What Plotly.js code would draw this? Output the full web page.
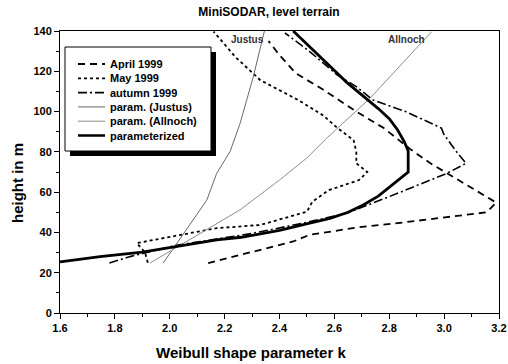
<!DOCTYPE html>
<html>
<head>
<meta charset="utf-8">
<script src="https://cdn.plot.ly/plotly-3.0.1.min.js"></script>
<style>
  html, body { margin: 0; padding: 0; background: #fff; overflow: hidden; }
  #chart { width: 508px; height: 364px; }
</style>
</head>
<body>
<div id="chart"></div>
<script>
// Weibull shape parameter k versus height, MiniSODAR over level terrain

// Measured profiles (k, height in m)
const aprilK  = [2.14, 2.45, 2.51, 2.69, 2.83, 3.155, 3.19, 3.07, 2.95, 2.88, 2.78, 2.68, 2.56, 2.46, 2.40, 2.36];
const aprilH  = [24.8, 35.5, 38.8, 42.6, 44.6, 50.0, 54.8, 64.4, 74.3, 81.0, 91.8, 100.0, 110.8, 119.0, 128.0, 135.0];

const mayK    = [1.92, 1.91, 1.88, 2.17, 2.33, 2.50, 2.52, 2.58, 2.69, 2.72, 2.68, 2.68, 2.67, 2.61, 2.56, 2.47, 2.33, 2.24, 2.16];
const mayH    = [25.0, 30.0, 34.7, 42.1, 43.7, 50.3, 55.3, 61.0, 66.0, 70.0, 74.3, 80.0, 85.8, 92.0, 98.0, 105.6, 115.6, 127.0, 139.7];

const autumnK = [1.78, 1.855, 2.02, 2.30, 2.50, 2.645, 2.83, 2.95, 3.01, 3.08, 3.05, 3.00, 2.99, 2.86, 2.74, 2.68, 2.61, 2.51, 2.42];
const autumnH = [24.8, 28.0, 33.5, 39.5, 45.0, 49.5, 59.4, 66.0, 69.3, 74.3, 79.2, 88.5, 91.8, 100.0, 105.8, 112.4, 118.2, 129.8, 139.0];

// Parameterisations
const justusK  = [1.976, 2.013, 2.135, 2.171, 2.22, 2.256, 2.304, 2.345];
const justusH  = [24.8, 32.0, 56.0, 69.3, 80.2, 94.0, 117.0, 140.0];

const allnochK = [1.928, 2.017, 2.256, 2.40, 2.50, 2.572, 2.73, 2.875, 2.955];
const allnochH = [24.8, 32.0, 51.2, 66.0, 77.0, 86.8, 106.6, 128.0, 139.7];

const paramK   = [1.60, 1.746, 1.90, 2.025, 2.171, 2.26, 2.40, 2.51, 2.584, 2.65, 2.705, 2.76, 2.803, 2.84, 2.869,
                  2.869, 2.855, 2.83, 2.80, 2.76, 2.71, 2.645, 2.584, 2.45];
const paramH   = [25.4, 28.0, 30.2, 33.0, 36.3, 37.6, 41.0, 44.6, 47.0, 50.0, 53.6, 58.0, 62.7, 66.5, 70.0,
                  80.5, 85.0, 91.0, 96.5, 101.5, 107.0, 114.5, 122.5, 140.0];

const seriesNames = ['April 1999', 'May 1999', 'autumn 1999', 'param. (Justus)', 'param. (Allnoch)', 'parameterized'];

// Styles
const styles = [
  {color: '#000', width: 1.8, dash: '7px,5px'},
  {color: '#000', width: 1.8, dash: '3px,3px'},
  {color: '#000', width: 1.6, dash: '9px,3px,2px,3px'},
  {color: '#6a6a6a', width: 1, dash: 'solid'},
  {color: '#8c8c8c', width: 1, dash: 'solid'},
  {color: '#000', width: 2.8, dash: 'solid'}
];

const xs = [aprilK, mayK, autumnK, justusK, allnochK, paramK];
const ys = [aprilH, mayH, autumnH, justusH, allnochH, paramH];

const traces = xs.map((x, i) => ({
  type: 'scatter', mode: 'lines', x: x, y: ys[i], name: seriesNames[i],
  line: styles[i], showlegend: false, hoverinfo: 'skip'
}));

// Page geometry
const W = 508, H = 364, L = 60, R = 9, T = 31, B = 51;
const fx = px => (px - L) / (W - L - R);
const fy = py => (H - B - py) / (H - T - B);

const font = {family: 'Liberation Sans, Arial, sans-serif', color: '#000', weight: 'bold'};

// Boxed legend with drop shadow
const shapes = [
  {type: 'rect', xref: 'paper', yref: 'paper', layer: 'above',
   x0: fx(70), x1: fx(216), y0: fy(156), y1: fy(52), fillcolor: '#000', line: {width: 0}},
  {type: 'rect', xref: 'paper', yref: 'paper', layer: 'above',
   x0: fx(65), x1: fx(211), y0: fy(151), y1: fy(47), fillcolor: '#fff', line: {color: '#000', width: 1}}
];
const annotations = [];
seriesNames.forEach((name, i) => {
  const py = 64 + i * 14.3;
  shapes.push({type: 'line', xref: 'paper', yref: 'paper', layer: 'above',
    x0: fx(78), x1: fx(105), y0: fy(py), y1: fy(py),
    line: {color: styles[i].color, width: Math.min(styles[i].width, 2.5), dash: styles[i].dash}});
  annotations.push({xref: 'paper', yref: 'paper', x: fx(108), y: fy(py), xanchor: 'left', yanchor: 'middle',
    text: name, showarrow: false, font: Object.assign({}, font, {size: 11})});
});

// Curve labels
annotations.push({xref: 'paper', yref: 'paper', x: fx(247), y: fy(39), xanchor: 'center', yanchor: 'middle',
  text: 'Justus', showarrow: false, font: Object.assign({}, font, {size: 10, color: '#333'})});
annotations.push({xref: 'paper', yref: 'paper', x: fx(406), y: fy(39), xanchor: 'center', yanchor: 'middle',
  text: 'Allnoch', showarrow: false, font: Object.assign({}, font, {size: 10, color: '#333'})});

// Axis titles
annotations.push({xref: 'paper', yref: 'paper', x: fx(251), y: fy(352), xanchor: 'center', yanchor: 'middle',
  text: 'Weibull shape parameter k', showarrow: false, font: Object.assign({}, font, {size: 15})});
annotations.push({xref: 'paper', yref: 'paper', x: fx(17), y: fy(183), xanchor: 'center', yanchor: 'middle',
  text: 'height in m', textangle: -90, showarrow: false, font: Object.assign({}, font, {size: 15})});

const axisCommon = {
  showgrid: false, zeroline: false, showline: true, linecolor: '#000', linewidth: 1, mirror: true,
  ticks: 'outside', ticklen: 5, tickwidth: 1, tickcolor: '#000',
  tickfont: Object.assign({}, font, {size: 11})
};

const layout = {
  width: W, height: H,
  margin: {l: L, r: R, t: T, b: B, pad: 0},
  paper_bgcolor: '#fff', plot_bgcolor: '#fff',
  font: font,
  showlegend: false,
  title: {text: 'MiniSODAR, level terrain', xref: 'paper', x: fx(269), xanchor: 'center',
          yref: 'container', y: 1 - 12 / H, yanchor: 'middle',
          font: Object.assign({}, font, {size: 12})},
  xaxis: Object.assign({}, axisCommon, {
    range: [1.6, 3.2], dtick: 0.2, tick0: 1.6, tickformat: '.1f',
    minor: {dtick: 0.1, ticks: 'outside', ticklen: 3, tickcolor: '#000'}
  }),
  yaxis: Object.assign({}, axisCommon, {
    range: [0, 140], dtick: 20, tick0: 0,
    minor: {dtick: 10, ticks: 'outside', ticklen: 3, tickcolor: '#000'}
  }),
  shapes: shapes,
  annotations: annotations
};

Plotly.newPlot('chart', traces, layout, {staticPlot: true, displayModeBar: false});
</script>
</body>
</html>
